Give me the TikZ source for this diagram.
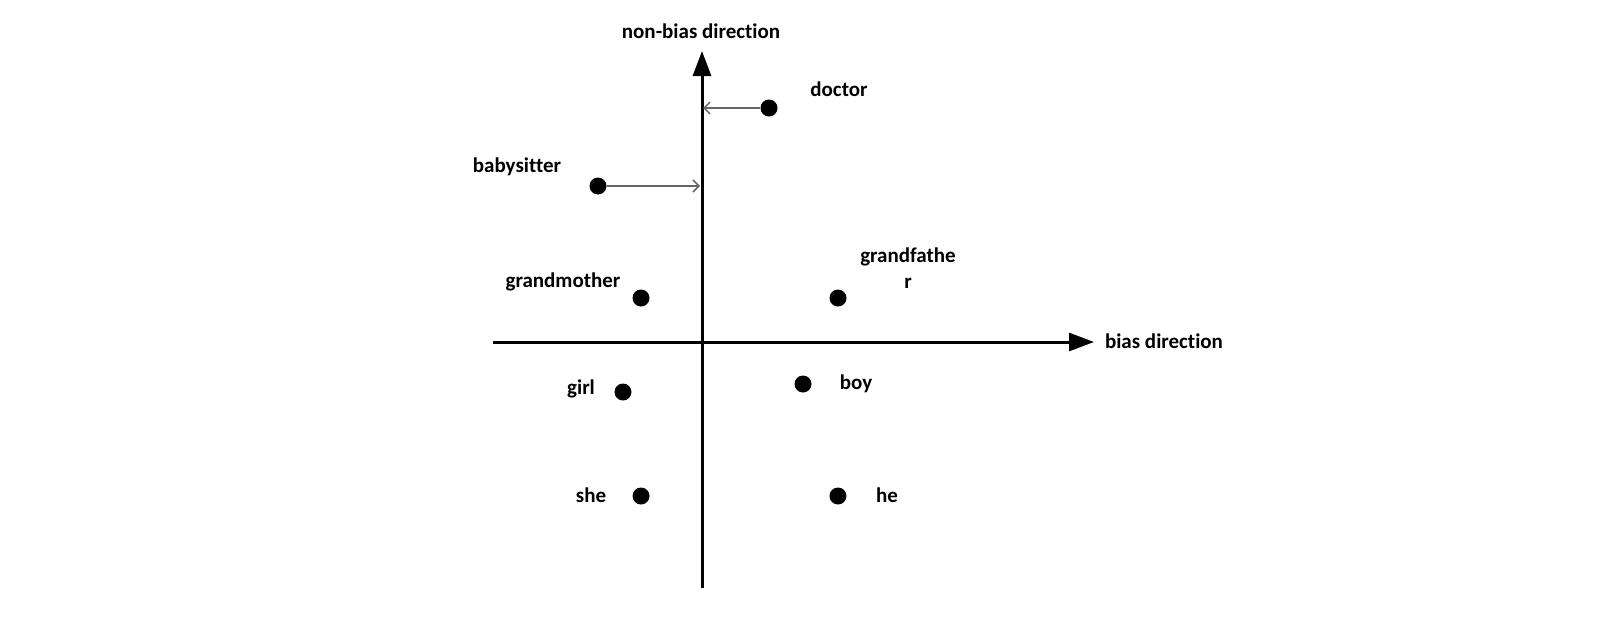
\documentclass[tikz,border=0pt]{standalone}
\usepackage{fontspec}
\setmainfont[Ligatures=NoCommon]{Carlito}
\usetikzlibrary{arrows.meta}
\begin{document}
\begin{tikzpicture}[x=1pt,y=-1pt,
  lbl/.style={font=\bfseries\fontsize{21}{24}\selectfont, text=black, inner sep=0pt},
  pt/.style={circle, fill=black, minimum size=17pt, inner sep=0pt},
  axis/.style={line width=3pt, -{Triangle[length=25pt,width=18pt]}},
  proj/.style={draw=gray!80!black, line width=1.5pt, -{Straight Barb[length=6pt,width=12pt]}}]
\useasboundingbox (0,0) rectangle (1612,616);
% axes
\coordinate (xs) at (493,342);
\coordinate (xe) at (1094,342);
\coordinate (ys) at (702,588);
\coordinate (ye) at (702,51);
\draw[axis] (xs) -- (xe);
\draw[axis] (ys) -- (ye);
\node[lbl] (xl) at (1164,341) {bias direction};
\node[lbl] (yl) at (701,31) {non-bias direction};
% points
\node[pt] (doctor) at (769,108) {};
\node[pt] (babysitter) at (598,186) {};
\node[pt] (grandmother) at (641,298) {};
\node[pt] (grandfather) at (838,298) {};
\node[pt] (girl) at (623,392) {};
\node[pt] (boy) at (803,384) {};
\node[pt] (she) at (641,496) {};
\node[pt] (he) at (838,496) {};
% labels
\node[lbl] at (839,89) {doctor};
\node[lbl] at (517,167) {babysitter};
\node[lbl] at (563,282) {grandmother};
\node[lbl] at (908,257) {grandfathe};
\node[lbl] at (908,283) {r};
\node[lbl] at (581,389) {girl};
\node[lbl] at (856,384) {boy};
\node[lbl] at (591,495) {she};
\node[lbl] at (887,495) {he};
% projections
\coordinate (dproj) at (703,108);
\coordinate (bproj) at (700,186);
\draw[proj] (doctor) -- (dproj);
\draw[proj] (babysitter) -- (bproj);
\end{tikzpicture}
\end{document}
